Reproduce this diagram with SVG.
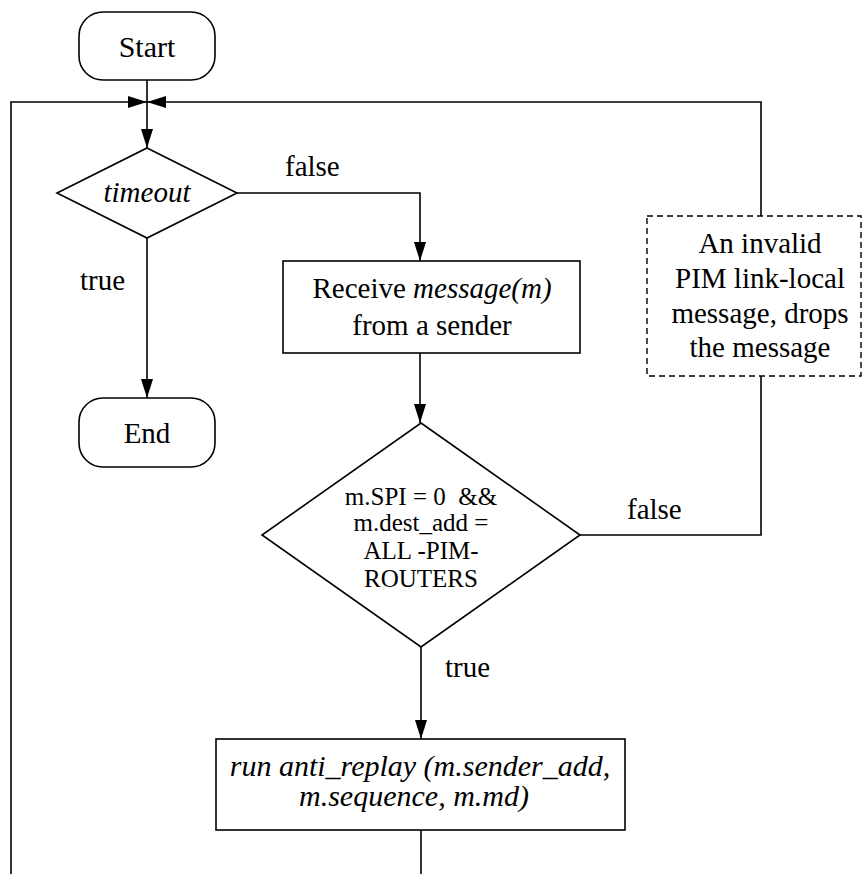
<svg xmlns="http://www.w3.org/2000/svg" width="865" height="874" viewBox="0 0 865 874">
  <style>
    .shape { fill: #ffffff; stroke: #000000; stroke-width: 1.6; }
    .dash { fill: #ffffff; stroke: #000000; stroke-width: 1.4; stroke-dasharray: 6 4; }
    .wire { fill: none; stroke: #000000; stroke-width: 1.6; }
  </style>
  <defs>
    <marker id="arrow" markerUnits="userSpaceOnUse" markerWidth="20" markerHeight="14" refX="19" refY="6" orient="auto">
      <path d="M0,0 L19,6 L0,12 z" fill="#000000"/>
    </marker>
  </defs>

  <rect x="0" y="0" width="865" height="874" fill="#ffffff"/>

  <!-- connectors and their labels -->
  <g id="connectors">
    <line class="wire" x1="147" y1="80" x2="147" y2="148" marker-end="url(#arrow)"/>
    <polyline class="wire" points="11,874 11,102 147,102" marker-end="url(#arrow)"/>
    <polyline class="wire" points="761,216 761,102 147,102" marker-end="url(#arrow)"/>
    <polyline class="wire" points="237,193 420,193 420,261" marker-end="url(#arrow)"/>
    <line class="wire" x1="147" y1="238" x2="147" y2="398" marker-end="url(#arrow)"/>
    <line class="wire" x1="420" y1="353" x2="420" y2="423" marker-end="url(#arrow)"/>
    <polyline class="wire" points="580,535 761,535 761,376"/>
    <line class="wire" x1="421" y1="647" x2="421" y2="739" marker-end="url(#arrow)"/>
    <line class="wire" x1="421" y1="830" x2="421" y2="874"/>
    <text style="font-family:'Liberation Serif';font-size:29px;text-anchor:start" x="285" y="176">false</text>
    <text style="font-family:'Liberation Serif';font-size:29px;text-anchor:start" x="80" y="290">true</text>
    <text style="font-family:'Liberation Serif';font-size:29px;text-anchor:start" x="627" y="519">false</text>
    <text style="font-family:'Liberation Serif';font-size:29px;text-anchor:start" x="445" y="677">true</text>
  </g>

  <g id="start">
    <rect class="shape" x="79" y="12" width="136" height="68" rx="24" ry="24"/>
    <text style="font-family:'Liberation Serif';font-size:30px;text-anchor:middle" x="147" y="57">Start</text>
  </g>

  <g id="timeout">
    <polygon class="shape" points="147,148 237,193 147,238 57,193"/>
    <text style="font-family:'Liberation Serif';font-size:29px;font-style:italic;text-anchor:middle" x="147" y="202">timeout</text>
  </g>

  <g id="end">
    <rect class="shape" x="79" y="398" width="136" height="69" rx="24" ry="24"/>
    <text style="font-family:'Liberation Serif';font-size:29px;text-anchor:middle" x="147" y="443">End</text>
  </g>

  <g id="receive">
    <rect class="shape" x="283" y="261" width="297" height="92"/>
    <text style="font-family:'Liberation Serif';font-size:29px;text-anchor:middle" x="432" y="298">Receive <tspan style="font-style:italic">message(m)</tspan></text>
    <text style="font-family:'Liberation Serif';font-size:29px;text-anchor:middle" x="432" y="335">from a sender</text>
  </g>

  <g id="check">
    <polygon class="shape" points="421,423 580,535 421,647 262,535"/>
    <text style="font-family:'Liberation Serif';font-size:25px;text-anchor:middle" x="421" y="505" xml:space="preserve">m.SPI = 0  &amp;&amp;</text>
    <text style="font-family:'Liberation Serif';font-size:25px;text-anchor:middle" x="421" y="531">m.dest_add =</text>
    <text style="font-family:'Liberation Serif';font-size:25px;text-anchor:middle" x="421" y="559">ALL -PIM-</text>
    <text style="font-family:'Liberation Serif';font-size:25px;text-anchor:middle" x="421" y="587">ROUTERS</text>
  </g>

  <g id="drop">
    <rect class="dash" x="647" y="216" width="214" height="160"/>
    <text style="font-family:'Liberation Serif';font-size:29px;text-anchor:middle" x="760" y="253">An invalid</text>
    <text style="font-family:'Liberation Serif';font-size:29px;text-anchor:middle" x="760" y="288">PIM link-local</text>
    <text style="font-family:'Liberation Serif';font-size:29px;text-anchor:middle" x="760" y="323">message, drops</text>
    <text style="font-family:'Liberation Serif';font-size:29px;text-anchor:middle" x="760" y="357">the message</text>
  </g>

  <g id="anti-replay">
    <rect class="shape" x="216" y="739" width="409" height="91"/>
    <text style="font-family:'Liberation Serif';font-size:30px;font-style:italic;text-anchor:middle" x="420" y="776">run anti_replay (m.sender_add,</text>
    <text style="font-family:'Liberation Serif';font-size:30px;font-style:italic;text-anchor:middle" x="414" y="806">m.sequence, m.md)</text>
  </g>
</svg>
